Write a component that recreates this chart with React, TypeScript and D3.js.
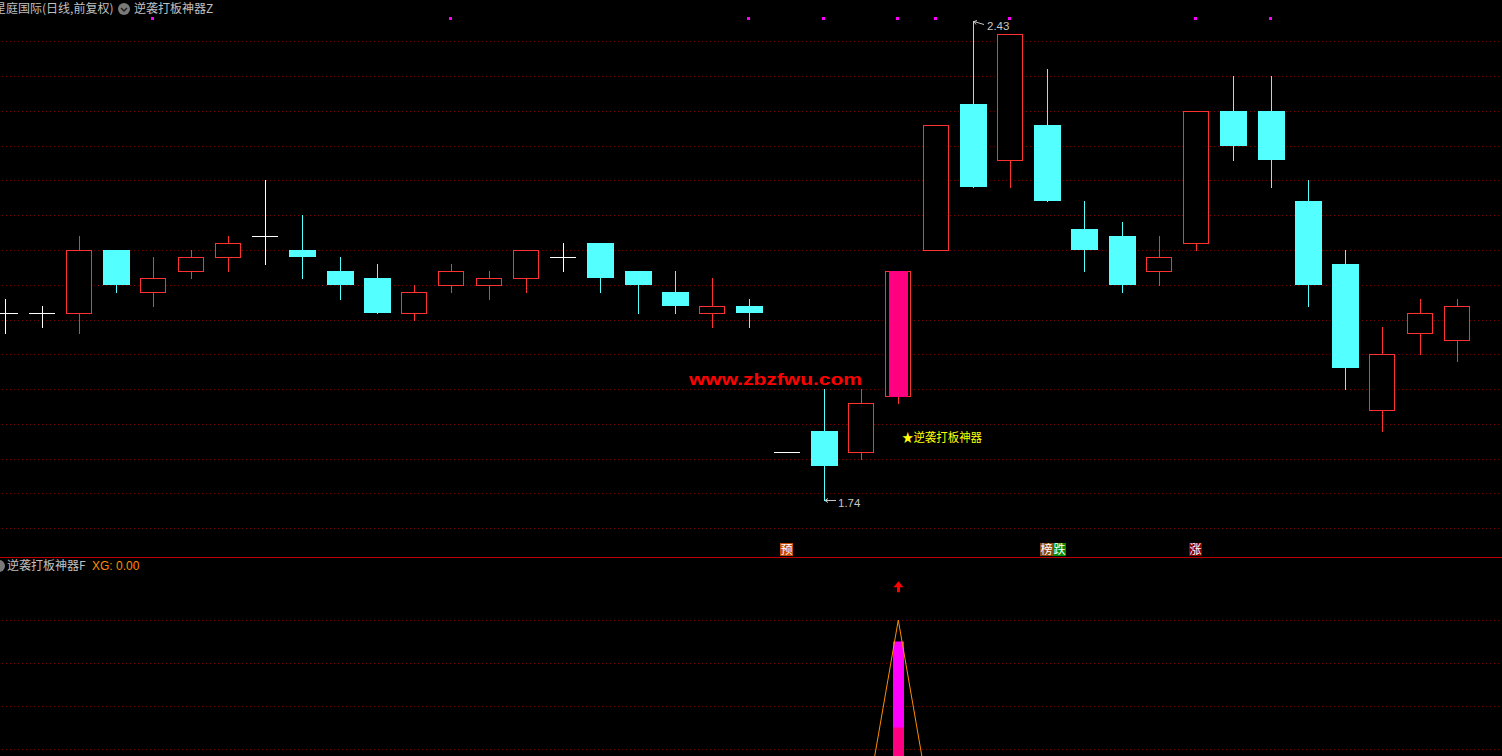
import React from 'react';
import * as d3 from 'd3';

const W = 1502;
const H = 756;

// ---- candle data (daily, forward adjusted) ----
const opens = [2.01, 2.01, 2.01, 2.10, 2.04, 2.07, 2.09, 2.12, 2.10, 2.07, 2.06, 2.01, 2.05, 2.05, 2.06, 2.09, 2.11, 2.07, 2.04, 2.01, 2.02, 1.81, 1.84, 1.81, 1.89, 2.10, 2.31, 2.23, 2.28, 2.13, 2.12, 2.07, 2.11, 2.30, 2.30, 2.17, 2.08, 1.87, 1.98, 1.97];
const highs = [2.03, 2.02, 2.12, 2.10, 2.09, 2.10, 2.12, 2.20, 2.15, 2.09, 2.08, 2.05, 2.08, 2.07, 2.10, 2.11, 2.11, 2.07, 2.07, 2.06, 2.03, 1.81, 1.90, 1.90, 2.07, 2.28, 2.43, 2.41, 2.36, 2.17, 2.14, 2.12, 2.30, 2.35, 2.35, 2.20, 2.10, 1.99, 2.03, 2.03];
const lows = [1.98, 1.99, 1.98, 2.04, 2.02, 2.06, 2.07, 2.08, 2.06, 2.03, 2.01, 2.00, 2.04, 2.03, 2.04, 2.07, 2.04, 2.01, 2.01, 1.99, 1.99, 1.81, 1.74, 1.80, 1.88, 2.10, 2.19, 2.19, 2.17, 2.07, 2.04, 2.05, 2.10, 2.23, 2.19, 2.02, 1.90, 1.84, 1.95, 1.94];
const closes = [2.01, 2.01, 2.10, 2.05, 2.06, 2.09, 2.11, 2.12, 2.09, 2.05, 2.01, 2.04, 2.07, 2.06, 2.10, 2.09, 2.06, 2.05, 2.02, 2.02, 2.01, 1.81, 1.79, 1.88, 2.07, 2.28, 2.19, 2.41, 2.17, 2.10, 2.05, 2.09, 2.30, 2.25, 2.23, 2.05, 1.93, 1.95, 2.01, 2.02];

const priceTicks = [2.40, 2.35, 2.30, 2.25, 2.20, 2.15, 2.10, 2.05, 2.00, 1.95, 1.90, 1.85, 1.80, 1.75, 1.70];

// signal dots on top of main panel (candle indices)
const topDotIndex = [4, 12, 20, 22, 24, 25, 27, 32, 34];

// indicator stick inside the big candle
const pinkStickIndex = [24];

// bottom tags
const tagIndex = [21, 28, 28, 32];
const tagText = ['预', '榜', '跌', '涨'];
const tagKind = ['pre', 'rank', 'fall', 'rise'];

// sub panel (逆袭打板神器F)
const subTicks = [100, 80, 60, 40];
const subLine = [0, 0, 0, 0, 0, 0, 0, 0, 0, 0, 0, 0, 0, 0, 0, 0, 0, 0, 0, 0, 0, 0, 0, 0, 100, 0, 0, 0, 0, 0, 0, 0, 0, 0, 0, 0, 0, 0, 0, 0];
const subStickIndex = 24;
const subStickHigh = 90;
const subStickMid = 50;
const subArrowValue = 118;

const titleMain = '星庭国际(日线,前复权)';
const titleInd = '逆袭打板神器Z';
const titleSub = '逆袭打板神器F';
const subXG = 'XG: 0.00';
const watermark = 'www.zbzfwu.com';
const signalText = '★逆袭打板神器';

const RED = '#ff3232';
const CYAN = '#54ffff';
const GRID = '#7a0000';
const TXT = '#c0c0c0';

export default function App() {
  const x = d3.scaleLinear().domain([0, 39]).range([4.5, 1456.9]);
  const y = d3.scaleLinear().domain([1.70, 2.40]).range([528.2, 41.4]);
  const yb = d3.scaleLinear().domain([0, 100]).range([835, 620]);

  const ry = (v: number) => Math.round(y(v));
  const tagBg: Record<string, string> = { pre: '#c44a08', rank: '#8b4a10', fall: '#008c00', rise: '#8b0000' };

  const candles = opens.map((o, i) => {
    const c = closes[i], h = highs[i], l = lows[i];
    const px = Math.round(x(i));
    const cxl = px + 0.5;
    if (o === c) {
      const yy = ry(o) + 0.5;
      return (
        <g key={i}>
          {h !== l && <line x1={cxl} x2={cxl} y1={ry(h)} y2={ry(l) + 1} stroke="#ffffff" />}
          <line x1={px - 13} x2={px + 13} y1={yy} y2={yy} stroke="#ffffff" />
        </g>
      );
    }
    if (c > o) {
      const top = ry(c), bot = ry(o);
      const pink = pinkStickIndex.includes(i);
      return (
        <g key={i}>
          {h > c && <line x1={cxl} x2={cxl} y1={ry(h)} y2={top} stroke={RED} />}
          {l < o && <line x1={cxl} x2={cxl} y1={bot + 1} y2={ry(l) + 1} stroke={RED} />}
          <rect x={px - 12.5} y={top + 0.5} width={25} height={bot - top} fill="#000" stroke={RED} />
          {pink && <rect x={px - 9} y={top} width={19} height={bot - top + 1} fill="#ff0080" />}
        </g>
      );
    }
    const top = ry(o), bot = ry(c);
    return (
      <g key={i}>
        <line x1={cxl} x2={cxl} y1={ry(h)} y2={ry(l) + 1} stroke={CYAN} />
        <rect x={px - 13} y={top} width={27} height={Math.max(1, bot - top)} fill={CYAN} />
      </g>
    );
  });

  const lineGen = d3.line<number>().x((_, i) => x(i)).y((v) => yb(v));

  const hiIdx = 26;
  const loIdx = 22;
  const hiX = Math.round(x(hiIdx));
  const hiY = ry(highs[hiIdx]);
  const loX = Math.round(x(loIdx));
  const loY = ry(lows[loIdx]) + 0.5;

  const sx = Math.round(x(subStickIndex));
  const arrowTip = yb(subArrowValue);

  return (
    <svg width={W} height={H} style={{ position: 'fixed', left: 0, top: 0, background: '#000', display: 'block' }}
      fontFamily="'Noto Sans CJK SC', sans-serif">
      <rect x={0} y={0} width={W} height={H} fill="#000" />
      {/* main grid */}
      {priceTicks.map((t) => (
        <line key={t} x1={2} x2={W} y1={Math.round(y(t)) + 0.5} y2={Math.round(y(t)) + 0.5} stroke={GRID} strokeDasharray="1 3" />
      ))}
      {/* sub grid */}
      {subTicks.map((t) => (
        <line key={t} x1={2} x2={W} y1={Math.round(yb(t)) + 0.5} y2={Math.round(yb(t)) + 0.5} stroke={GRID} strokeDasharray="1 3" />
      ))}
      {/* separator */}
      <line x1={0} x2={W} y1={557.5} y2={557.5} stroke="#c00000" />

      {candles}

      {/* top signal dots */}
      {topDotIndex.map((i) => (
        <rect key={i} x={Math.round(x(i)) - 2} y={17} width={3} height={3} fill="#ff00ff" />
      ))}

      {/* high / low labels */}
      <path d={`M${hiX + 1},${hiY + 0.5} l10,3 M${hiX + 1},${hiY + 0.5} l3,-1 M${hiX + 1},${hiY + 0.5} l2,3`} stroke="#c8c8c8" fill="none" />
      <text x={hiX + 14} y={hiY + 9} fill="#c8c8c8" fontSize={11.5} fontFamily="'Liberation Sans', Arial, sans-serif">{highs[hiIdx].toFixed(2)}</text>
      <path d={`M${loX + 1},${loY} h11 M${loX + 1},${loY} l3,-2 M${loX + 1},${loY} l3,2`} stroke="#c8c8c8" fill="none" />
      <text x={loX + 14} y={loY + 6} fill="#c8c8c8" fontSize={11.5} fontFamily="'Liberation Sans', Arial, sans-serif">{lows[loIdx].toFixed(2)}</text>

      {/* watermark */}
      <text x={689} y={385} fill="#ff0000" fontSize={17} fontWeight={900} fontFamily="'Liberation Sans', Arial, sans-serif"
        textLength={173} lengthAdjust="spacingAndGlyphs">{watermark}</text>

      {/* signal text */}
      <text x={Math.round(x(24)) + 4} y={y(1.82) - 2.5} fill="#ffff00" fontSize={12.5} textLength={80} lengthAdjust="spacingAndGlyphs">{signalText}</text>

      {/* bottom tags */}
      {tagIndex.map((i, k) => {
        const px = Math.round(x(i));
        const bx = tagText[k] === '跌' ? px + 6 : px - 7;
        return (
          <g key={k}>
            <rect x={bx} y={543} width={13} height={13} fill={tagBg[tagKind[k]]} />
            <text x={bx + 6.5} y={554} fill="#ffffff" fontSize={12} textAnchor="middle">{tagText[k]}</text>
          </g>
        );
      })}

      {/* titles */}
      <text x={-6} y={13} fill={TXT} fontSize={12}>{titleMain}</text>
      <circle cx={124} cy={9} r={6} fill="#7a7a7a" />
      <path d="M121,8 l3,3 l3,-3" stroke="#202020" strokeWidth={1.5} fill="none" />
      <text x={134} y={13} fill={TXT} fontSize={12}>{titleInd}</text>

      <circle cx={-1} cy={566} r={6} fill="#7a7a7a" />
      <text x={7} y={569.5} fill={TXT} fontSize={12}>{titleSub}</text>
      <text x={92} y={569.5} fill="#ff8c00" fontSize={12} fontFamily="'Liberation Sans', Arial, sans-serif">{subXG}</text>

      {/* sub panel */}
      <rect x={sx - 5} y={yb(subStickHigh)} width={11} height={yb(0) - yb(subStickHigh)} fill="#ff00ff" />
      <rect x={sx - 5} y={yb(subStickMid)} width={11} height={yb(0) - yb(subStickMid)} fill="#ff0080" />
      <path d={lineGen(subLine) || ''} stroke="#ff8c00" strokeWidth={1} fill="none" />
      <path d={`M${sx + 0.5},${arrowTip} L${sx + 5.5},${arrowTip + 6} L${sx + 2},${arrowTip + 6} L${sx + 2},${arrowTip + 11} L${sx - 1},${arrowTip + 11} L${sx - 1},${arrowTip + 6} L${sx - 4.5},${arrowTip + 6} Z`} fill="#ff0000" />
    </svg>
  );
}
